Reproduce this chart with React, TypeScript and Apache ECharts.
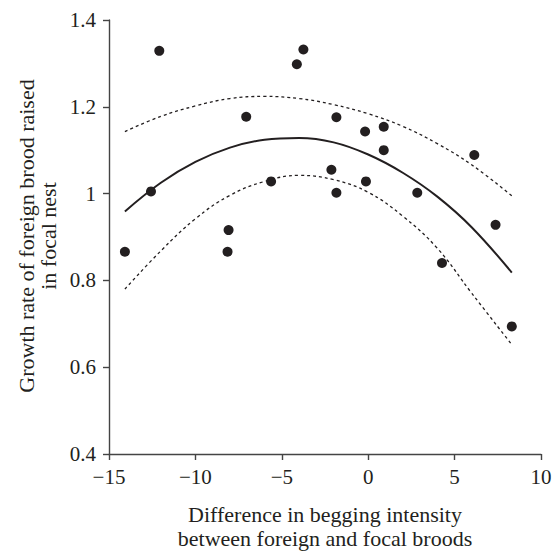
import React, { useEffect, useRef } from "react";
import * as echarts from "echarts";

// Observed data points
const pointX = [-14.08, -12.57, -12.09, -8.08, -8.14, -7.06, -5.62, -4.13, -3.75, -2.13, -1.84, -1.84, -0.18, -0.13, 0.9, 0.9, 2.84, 4.27, 6.14, 7.37, 8.31];
const pointY = [0.866, 1.005, 1.329, 0.916, 0.866, 1.177, 1.028, 1.298, 1.332, 1.055, 1.176, 1.002, 1.143, 1.028, 1.154, 1.1, 1.002, 0.84, 1.089, 0.928, 0.694];

// Fitted curve and confidence band
const curveX = [-14.08, -12, -10, -8, -6, -4, -2, 0, 2, 4, 6, 8.31];
const fitY = [0.959, 1.025, 1.073, 1.106, 1.124, 1.128, 1.118, 1.09, 1.048, 0.993, 0.922, 0.818];
const upperY = [1.143, 1.178, 1.202, 1.219, 1.224, 1.219, 1.205, 1.184, 1.155, 1.115, 1.066, 0.995];
const lowerY = [0.78, 0.868, 0.942, 0.996, 1.028, 1.042, 1.032, 1.003, 0.948, 0.874, 0.77, 0.652];

const xTitle = "Difference in begging intensity\nbetween foreign and focal broods";
const yTitle = "Growth rate of foreign brood raised\nin focal nest";

const FONT = "'Liberation Serif', 'Times New Roman', serif";
const INK = "#231f20";

export default function App() {
  const ref = useRef<HTMLDivElement>(null);
  useEffect(() => {
    document.body.style.margin = "0";
    if (!ref.current) return;
    const chart = echarts.init(ref.current, null, { renderer: "svg" });
    const pairs = (xs: number[], ys: number[]) => xs.map((x, i) => [x, ys[i]]);
    const axisCommon = {
      axisLine: { show: true, onZero: false, lineStyle: { color: "#444", width: 1.4 } },
      axisTick: { show: true, inside: false, length: 6, lineStyle: { color: "#444", width: 1.4 } },
      splitLine: { show: false },
    };
    chart.setOption({
      animation: false,
      backgroundColor: "#fff",
      grid: { left: 109, right: 19, top: 20, bottom: 98, containLabel: false },
      xAxis: {
        type: "value",
        min: -15,
        max: 10,
        interval: 5,
        ...axisCommon,
        axisLabel: {
          margin: 12,
          fontFamily: FONT,
          fontSize: 21,
          color: INK,
          formatter: (v: number) => String(v).replace("-", "\u2212"),
        },
      },
      yAxis: {
        type: "value",
        min: 0.4,
        max: 1.4,
        interval: 0.2,
        ...axisCommon,
        axisLabel: {
          margin: 13,
          fontFamily: FONT,
          fontSize: 21,
          color: INK,
          formatter: (v: number) => String(Math.round(v * 10) / 10),
        },
      },
      graphic: [
        {
          type: "text",
          x: 325,
          y: 526,
          style: {
            text: xTitle,
            fontFamily: FONT,
            fontSize: 22,
            lineHeight: 24,
            fill: INK,
            textAlign: "center",
            textVerticalAlign: "middle",
          },
        },
        {
          type: "text",
          x: 37,
          y: 236,
          rotation: Math.PI / 2,
          style: {
            text: yTitle,
            fontFamily: FONT,
            fontSize: 22,
            lineHeight: 22,
            fill: INK,
            textAlign: "center",
            textVerticalAlign: "middle",
          },
        },
      ],
      series: [
        {
          type: "line",
          data: pairs(curveX, upperY),
          smooth: 0.4,
          showSymbol: false,
          lineStyle: { color: INK, width: 1.3, type: [3, 3] },
        },
        {
          type: "line",
          data: pairs(curveX, lowerY),
          smooth: 0.4,
          showSymbol: false,
          lineStyle: { color: INK, width: 1.3, type: [3, 3] },
        },
        {
          type: "line",
          data: pairs(curveX, fitY),
          smooth: 0.4,
          showSymbol: false,
          lineStyle: { color: INK, width: 2 },
        },
        {
          type: "scatter",
          data: pairs(pointX, pointY),
          symbolSize: 10,
          itemStyle: { color: INK, opacity: 1 },
        },
      ],
    });
    return () => chart.dispose();
  }, []);
  return <div ref={ref} style={{ width: 560, height: 552 }} />;
}
